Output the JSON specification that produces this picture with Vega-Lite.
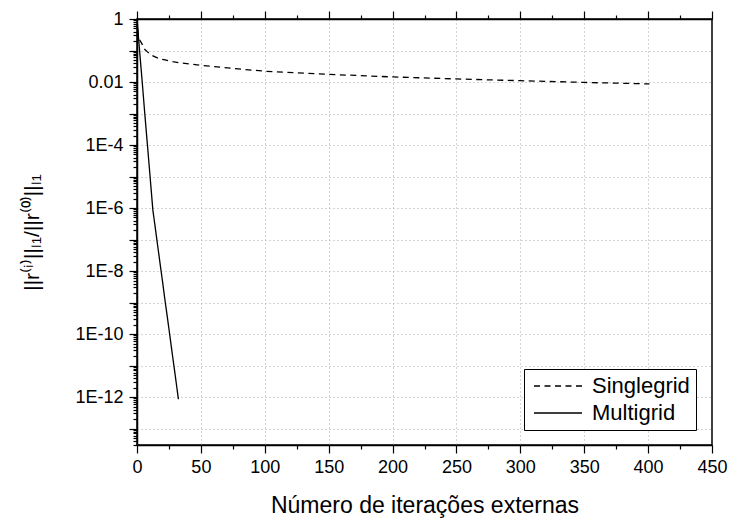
{
  "$schema": "https://vega.github.io/schema/vega-lite/v6.json",
  "width": 575,
  "height": 426,
  "autosize": "none",
  "padding": {"left": 137, "top": 19, "right": 19, "bottom": 73},
  "background": "white",
  "config": {
    "font": "Liberation Sans",
    "view": {"stroke": "black", "strokeWidth": 1.5},
    "axis": {"labelFont": "Liberation Sans", "titleFont": "Liberation Sans", "labelColor": "black", "titleColor": "black", "titleFontWeight": "normal", "domainColor": "black", "domainWidth": 1.5, "tickColor": "black", "tickWidth": 1.2, "gridColor": "#aaaaaa", "gridDash": [1, 3], "gridWidth": 1}
  },
  "datasets": {
    "conv": [
      {"series": "Singlegrid", "x": 0, "y": 1},
      {"series": "Singlegrid", "x": 1, "y": 0.3},
      {"series": "Singlegrid", "x": 2, "y": 0.22},
      {"series": "Singlegrid", "x": 4, "y": 0.16},
      {"series": "Singlegrid", "x": 5, "y": 0.12},
      {"series": "Singlegrid", "x": 8, "y": 0.092},
      {"series": "Singlegrid", "x": 11, "y": 0.072},
      {"series": "Singlegrid", "x": 17, "y": 0.056},
      {"series": "Singlegrid", "x": 22, "y": 0.05},
      {"series": "Singlegrid", "x": 28, "y": 0.044},
      {"series": "Singlegrid", "x": 35, "y": 0.04},
      {"series": "Singlegrid", "x": 50, "y": 0.034},
      {"series": "Singlegrid", "x": 75, "y": 0.027},
      {"series": "Singlegrid", "x": 100, "y": 0.022},
      {"series": "Singlegrid", "x": 150, "y": 0.0175},
      {"series": "Singlegrid", "x": 200, "y": 0.0145},
      {"series": "Singlegrid", "x": 250, "y": 0.0125},
      {"series": "Singlegrid", "x": 300, "y": 0.011},
      {"series": "Singlegrid", "x": 350, "y": 0.0097},
      {"series": "Singlegrid", "x": 401, "y": 0.0087},
      {"series": "Multigrid", "x": 0, "y": 1},
      {"series": "Multigrid", "x": 2, "y": 0.1},
      {"series": "Multigrid", "x": 4, "y": 0.011},
      {"series": "Multigrid", "x": 6, "y": 0.0011},
      {"series": "Multigrid", "x": 8, "y": 0.00012},
      {"series": "Multigrid", "x": 10, "y": 1.3e-5},
      {"series": "Multigrid", "x": 12.4, "y": 8.7e-7},
      {"series": "Multigrid", "x": 14, "y": 2.9e-7},
      {"series": "Multigrid", "x": 16, "y": 7.2e-8},
      {"series": "Multigrid", "x": 18, "y": 1.8e-8},
      {"series": "Multigrid", "x": 20, "y": 4.6e-9},
      {"series": "Multigrid", "x": 22, "y": 1.1e-9},
      {"series": "Multigrid", "x": 24, "y": 2.9e-10},
      {"series": "Multigrid", "x": 26, "y": 7.2e-11},
      {"series": "Multigrid", "x": 28, "y": 1.8e-11},
      {"series": "Multigrid", "x": 30, "y": 4.6e-12},
      {"series": "Multigrid", "x": 32.4, "y": 8.5e-13}
    ]
  },
  "data": {"name": "conv"},
  "layer": [
    {
      "mark": {"type": "line", "color": "black", "strokeWidth": 1.3, "clip": true},
      "encoding": {
        "x": {
          "field": "x", "type": "quantitative",
          "scale": {"domain": [0, 450], "nice": false},
          "title": "Número de iterações externas",
          "axis": {
            "values": [0, 25, 50, 75, 100, 125, 150, 175, 200, 225, 250, 275, 300, 325, 350, 375, 400, 425, 450],
            "labelExpr": "datum.value % 50 == 0 ? datum.label : ''",
            "labelFontSize": 18, "labelPadding": 5, "labelOverlap": false, "labelFlush": false,
            "tickSize": {"condition": {"test": "datum.value % 50 == 0", "value": 8}, "value": 4},
            "gridOpacity": {"condition": {"test": "datum.value % 50 == 0 && datum.value > 0 && datum.value < 450", "value": 1}, "value": 0},
            "titleFontSize": 23, "titlePadding": 18
          }
        },
        "y": {
          "field": "y", "type": "quantitative",
          "scale": {"type": "log", "domain": [3e-14, 1], "nice": false},
          "title": "||r⁽ⁱ⁾||ₗ₁/||r⁽⁰⁾||ₗ₁",
          "axis": {
            "values": [1, 0.9, 0.8, 0.7, 0.6, 0.5, 0.4, 0.3, 0.2, 0.1, 0.09, 0.08, 0.07, 0.06, 0.05, 0.04, 0.03, 0.02, 0.01, 0.009, 0.008, 0.007, 0.006, 0.005, 0.004, 0.003, 0.002, 0.001, 9e-4, 8e-4, 7e-4, 6e-4, 5e-4, 4e-4, 3e-4, 2e-4, 1e-4, 9e-5, 8e-5, 7e-5, 6e-5, 5e-5, 4e-5, 3e-5, 2e-5, 1e-5, 9e-6, 8e-6, 7e-6, 6e-6, 5e-6, 4e-6, 3e-6, 2e-6, 1e-6, 9e-7, 8e-7, 7e-7, 6e-7, 5e-7, 4e-7, 3e-7, 2e-7, 1e-7, 9e-8, 8e-8, 7e-8, 6e-8, 5e-8, 4e-8, 3e-8, 2e-8, 1e-8, 9e-9, 8e-9, 7e-9, 6e-9, 5e-9, 4e-9, 3e-9, 2e-9, 1e-9, 9e-10, 8e-10, 7e-10, 6e-10, 5e-10, 4e-10, 3e-10, 2e-10, 1e-10, 9e-11, 8e-11, 7e-11, 6e-11, 5e-11, 4e-11, 3e-11, 2e-11, 1e-11, 9e-12, 8e-12, 7e-12, 6e-12, 5e-12, 4e-12, 3e-12, 2e-12, 1e-12, 9e-13, 8e-13, 7e-13, 6e-13, 5e-13, 4e-13, 3e-13, 2e-13, 1e-13, 9e-14, 8e-14, 7e-14, 6e-14, 5e-14, 4e-14, 3e-14],
            "labelExpr": "abs(log(datum.value)/LN10 - round(log(datum.value)/LN10)) < 0.001 && round(log(datum.value)/LN10) % 2 == 0 ? (round(log(datum.value)/LN10) == 0 ? '1' : round(log(datum.value)/LN10) == -2 ? '0.01' : '1E' + round(log(datum.value)/LN10)) : ''",
            "labelFontSize": 18, "labelPadding": 6, "labelOverlap": false, "labelFlush": false,
            "tickSize": {"condition": {"test": "abs(log(datum.value)/LN10 - round(log(datum.value)/LN10)) < 0.001", "value": 8}, "value": 4},
            "gridOpacity": {"condition": {"test": "abs(log(datum.value)/LN10 - round(log(datum.value)/LN10)) < 0.001 && datum.value < 0.5", "value": 1}, "value": 0},
            "titleFontSize": 21, "titlePadding": 32
          }
        },
        "strokeDash": {
          "field": "series", "type": "nominal",
          "scale": {"domain": ["Singlegrid", "Multigrid"], "range": [[6, 4.5], [1, 0]]},
          "legend": {
            "title": null, "orient": "none", "legendX": 387, "legendY": 350,
            "strokeColor": "black", "fillColor": "white", "padding": 6,
            "symbolType": "M-1,0H5", "symbolSize": 256, "symbolOffset": 1, "symbolStrokeColor": "black", "symbolStrokeWidth": 1.3, "symbolFillColor": "transparent",
            "labelFontSize": 22, "labelColor": "black", "labelFont": "Liberation Sans", "rowPadding": 5, "labelOffset": 39
          }
        }
      }
    },
    {
      "mark": {"type": "line", "opacity": 0},
      "encoding": {
        "x": {
          "field": "x", "type": "quantitative",
          "scale": {"domain": [0, 450], "nice": false},
          "axis": {"orient": "top", "title": null, "labels": false, "grid": false,
            "values": [0, 25, 50, 75, 100, 125, 150, 175, 200, 225, 250, 275, 300, 325, 350, 375, 400, 425, 450],
            "tickSize": {"condition": {"test": "datum.value % 50 == 0", "value": 8}, "value": 4}}
        },
        "y": {"field": "y", "type": "quantitative"}
      }
    }
  ],
  "resolve": {"scale": {"x": "independent"}}
}
